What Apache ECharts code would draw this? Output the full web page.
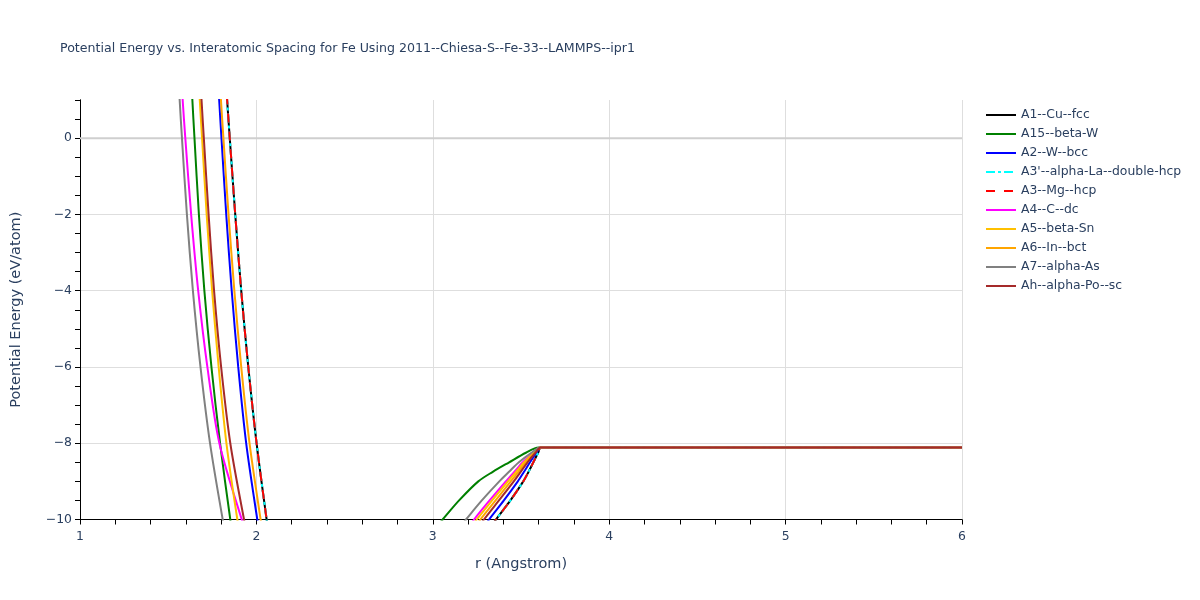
<!DOCTYPE html>
<html>
<head>
<meta charset="utf-8">
<script src="https://cdn.jsdelivr.net/npm/echarts@6/dist/echarts.min.js"></script>
<style>html,body{margin:0;padding:0;background:#fff;}#c{width:1200px;height:600px;}</style>
</head>
<body>
<div id="c"></div>
<script>
// ---- Data ----
const seriesNames = ["A1--Cu--fcc","A15--beta-W","A2--W--bcc","A3'--alpha-La--double-hcp","A3--Mg--hcp","A4--C--dc","A5--beta-Sn","A6--In--bct","A7--alpha-As","Ah--alpha-Po--sc"];
const xTicks = [1, 2, 3, 4, 5, 6];
const yTicks = [-10, -8, -6, -4, -2, 0];

// Repulsive wall: r (Angstrom) at these energies (eV/atom)
const wallE = [3, 1, 0, -2, -4, -6, -8, -10, -11];
// Attractive tail: r at these energies
const tailE = [-11, -10, -9.5, -9, -8.75, -8.5, -8.25, -8.115];
// Plateau beyond the cutoff
const plateauR = [3.7, 6];
const plateauE = -8.115;

const wallR_A1  = [1.806, 1.834, 1.849, 1.880, 1.914, 1.954, 2.001, 2.058, 2.09];
const wallR_A15 = [1.617, 1.637, 1.649, 1.674, 1.705, 1.745, 1.794, 1.852, 1.885];
const wallR_A2  = [1.765, 1.789, 1.802, 1.829, 1.860, 1.897, 1.942, 2.005, 2.04];
const wallR_A3p = [1.806, 1.834, 1.849, 1.880, 1.914, 1.954, 2.001, 2.058, 2.09];
const wallR_A3  = [1.806, 1.834, 1.849, 1.880, 1.914, 1.954, 2.001, 2.058, 2.09];
const wallR_A4  = [1.556, 1.582, 1.597, 1.630, 1.670, 1.722, 1.790, 1.917, 1.99];
const wallR_A5  = [1.657, 1.679, 1.692, 1.718, 1.749, 1.786, 1.830, 1.892, 1.93];
const wallR_A6  = [1.773, 1.799, 1.813, 1.842, 1.875, 1.914, 1.961, 2.024, 2.06];
const wallR_A7  = [1.543, 1.565, 1.578, 1.606, 1.640, 1.683, 1.737, 1.809, 1.85];
const wallR_Ah  = [1.667, 1.689, 1.702, 1.729, 1.760, 1.800, 1.852, 1.930, 1.975];

const tailR_A1  = [3.20, 3.358, 3.440, 3.513, 3.543, 3.570, 3.597, 3.612];
const tailR_A15 = [2.87, 3.056, 3.149, 3.258, 3.340, 3.433, 3.528, 3.600];
const tailR_A2  = [3.16, 3.319, 3.403, 3.482, 3.517, 3.551, 3.588, 3.612];
const tailR_A3p = [3.20, 3.358, 3.440, 3.513, 3.543, 3.570, 3.597, 3.612];
const tailR_A3  = [3.20, 3.358, 3.440, 3.513, 3.543, 3.570, 3.597, 3.612];
const tailR_A4  = [3.07, 3.234, 3.322, 3.414, 3.462, 3.510, 3.569, 3.610];
const tailR_A5  = [3.09, 3.249, 3.336, 3.426, 3.472, 3.518, 3.573, 3.610];
const tailR_A6  = [3.11, 3.270, 3.356, 3.442, 3.485, 3.527, 3.577, 3.611];
const tailR_A7  = [3.01, 3.188, 3.278, 3.377, 3.432, 3.488, 3.559, 3.610];
const tailR_Ah  = [3.13, 3.290, 3.375, 3.459, 3.498, 3.537, 3.582, 3.611];

const wallRs = [wallR_A1, wallR_A15, wallR_A2, wallR_A3p, wallR_A3, wallR_A4, wallR_A5, wallR_A6, wallR_A7, wallR_Ah];
const tailRs = [tailR_A1, tailR_A15, tailR_A2, tailR_A3p, tailR_A3, tailR_A4, tailR_A5, tailR_A6, tailR_A7, tailR_Ah];

// ---- Styles ----
const colors = ["#000000", "#008000", "#0000ff", "#00ffff", "#ff0000", "#ff00ff", "#ffc000", "#ffa500", "#808080", "#a52a2a"];
const dashes = ["solid", "solid", "solid", [9, 3, 3, 3], [9, 9], "solid", "solid", "solid", "solid", "solid"];

function buildPoints(i) {
  const pts = [];
  wallRs[i].forEach((r, k) => pts.push([r, wallE[k]]));
  tailRs[i].forEach((r, k) => pts.push([r, tailE[k]]));
  plateauR.forEach(r => pts.push([r, plateauE]));
  return pts;
}

const fontFam = '"DejaVu Sans", Verdana, sans-serif';
const txt = '#2a3f5f';
const minus = v => String(v).replace('-', '\u2212');

const series = [{
  name: 'zero', type: 'line', data: [[1, 0], [6, 0]], symbol: 'none', silent: true,
  lineStyle: { color: '#cfcfcf', width: 2 }, z: 1, animation: false
}];
seriesNames.forEach((n, i) => {
  series.push({
    name: n, type: 'line', data: buildPoints(i), symbol: 'none', showSymbol: false,
    clip: true, animation: false, smooth: 0.3,
    lineStyle: { color: colors[i], width: 2, type: dashes[i] },
    itemStyle: { color: colors[i] }
  });
});

const chart = echarts.init(document.getElementById('c'), null, { renderer: 'canvas' });
chart.setOption({
  animation: false,
  backgroundColor: '#ffffff',
  title: {
    text: 'Potential Energy vs. Interatomic Spacing for Fe Using 2011--Chiesa-S--Fe-33--LAMMPS--ipr1',
    left: 55, top: 37,
    textStyle: { fontFamily: fontFam, fontSize: 12.6, fontWeight: 'normal', color: txt }
  },
  legend: {
    data: seriesNames, orient: 'vertical', left: 985, top: 108, padding: 0,
    itemWidth: 30, itemHeight: 14, itemGap: 5,
    itemStyle: { opacity: 0 },
    textStyle: { fontFamily: fontFam, fontSize: 12.4, color: txt, lineHeight: 14 }
  },
  grid: { left: 80, right: 238, top: 100, bottom: 80.5, containLabel: false },
  xAxis: {
    type: 'value', min: xTicks[0], max: xTicks[xTicks.length - 1], interval: 1,
    name: 'r (Angstrom)', nameLocation: 'middle', nameGap: 37,
    nameTextStyle: { fontFamily: fontFam, fontSize: 14.5, color: txt },
    axisLine: { show: true, onZero: false, lineStyle: { color: '#000', width: 1 } },
    axisTick: { show: true, length: 5, lineStyle: { color: '#000' } },
    minorTick: { show: true, splitNumber: 5, length: 5, lineStyle: { color: '#000' } },
    axisLabel: { fontFamily: fontFam, fontSize: 12.4, color: txt, margin: 11 },
    splitLine: { show: true, lineStyle: { color: '#dedede', width: 1 } }
  },
  yAxis: [{
    type: 'value', min: yTicks[0], max: 1, interval: 2,
    name: 'Potential Energy (eV/atom)', nameLocation: 'middle', nameGap: 56, nameRotate: 90,
    nameTextStyle: { fontFamily: fontFam, fontSize: 14.5, color: txt },
    axisLine: { show: true, onZero: false, lineStyle: { color: '#000', width: 1 } },
    axisTick: { show: false },
    axisLabel: { fontFamily: fontFam, fontSize: 12.4, color: txt, margin: 8, showMaxLabel: false, formatter: minus },
    splitLine: { show: true, lineStyle: { color: ['#dedede', '#dedede', '#dedede', '#dedede', '#dedede', '#dedede', 'rgba(0,0,0,0)'], width: 1 } }
  }, {
    type: 'value', min: yTicks[0], max: 1, interval: 0.5, position: 'left', offset: 0,
    axisLine: { show: true, onZero: false, lineStyle: { color: '#000', width: 1 } },
    axisTick: { show: true, length: 5, lineStyle: { color: '#000' } },
    axisLabel: { show: false },
    splitLine: { show: false }
  }],
  series: series
});
</script>
</body>
</html>
